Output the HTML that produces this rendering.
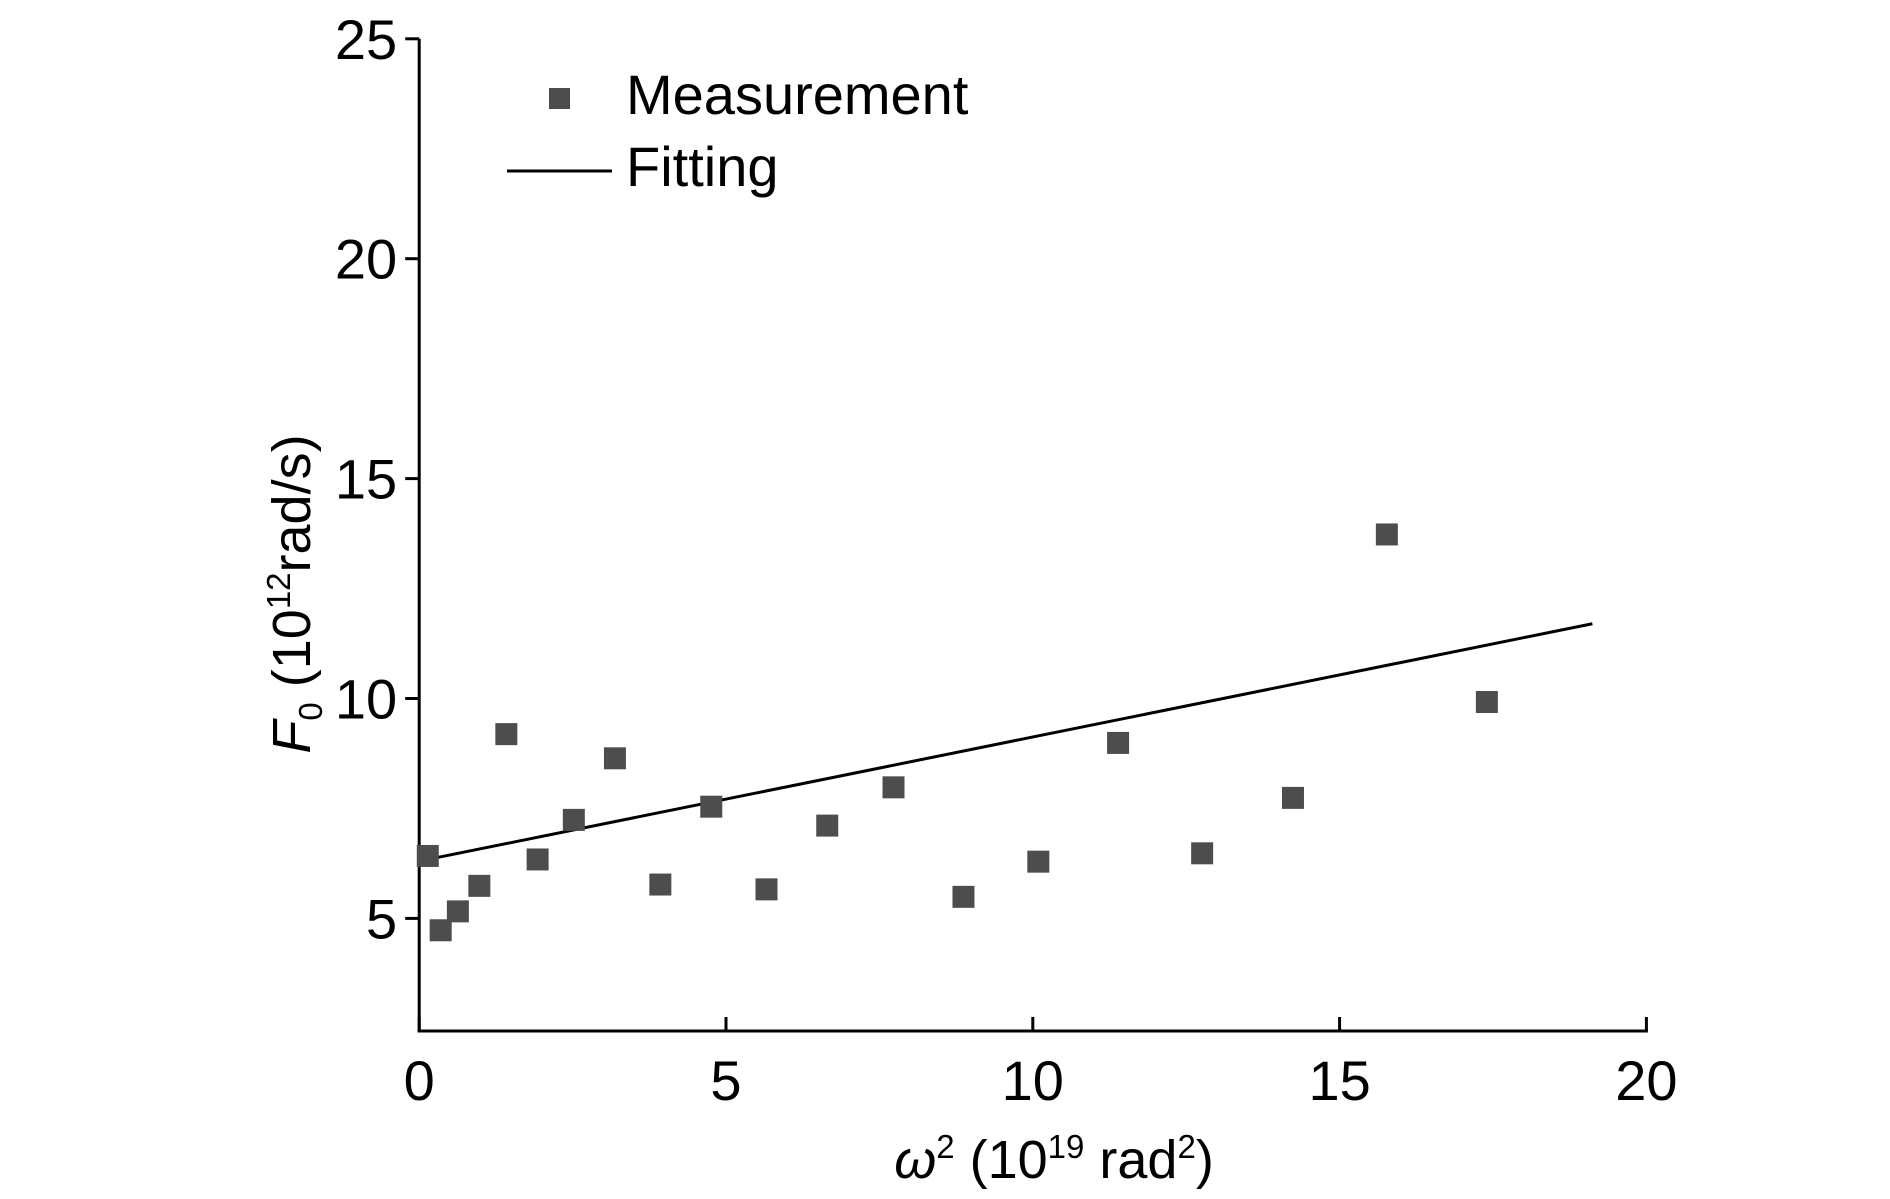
<!DOCTYPE html>
<html><head><meta charset="utf-8"><style>
html,body{margin:0;padding:0;background:#fff;}
svg{display:block;font-family:"Liberation Sans",sans-serif;}
</style></head><body>
<svg id="chart" width="1890" height="1199" viewBox="0 0 1890 1199" xmlns="http://www.w3.org/2000/svg">
<g id="axes"></g>
<g id="marks"></g>
<g id="legend">
  <rect x="549" y="88" width="21" height="21" fill="#4d4d4d"/>
  <text x="626" y="114" font-size="56" fill="#000">Measurement</text>
  <line x1="507" y1="171" x2="612" y2="171" stroke="#000" stroke-width="3"/>
  <text x="626" y="186" font-size="56" fill="#000">Fitting</text>
</g>
<text transform="translate(310,594) rotate(-90)" text-anchor="middle" font-size="54"><tspan font-style="italic">F</tspan><tspan font-size="33" dy="12">0</tspan><tspan dy="-12"> (10</tspan><tspan font-size="33" dy="-20">12</tspan><tspan dy="20">rad/s)</tspan></text>
<text x="1054" y="1178" text-anchor="middle" font-size="54"><tspan font-style="italic">ω</tspan><tspan font-size="33" dy="-20">2</tspan><tspan dy="20"> (10</tspan><tspan font-size="33" dy="-20">19</tspan><tspan dy="20"> rad</tspan><tspan font-size="33" dy="-20">2</tspan><tspan dy="20">)</tspan></text>
</svg>
<script>
const xs = [0.14,0.35,0.63,0.98,1.42,1.93,2.52,3.19,3.93,4.76,5.66,6.65,7.73,8.87,10.09,11.39,12.76,14.24,15.77,17.40];
const ys = [6.42,4.73,5.16,5.74,9.19,6.34,7.24,8.64,5.77,7.54,5.66,7.11,7.98,5.49,6.29,8.99,6.48,7.74,13.73,9.92];
const fitX = [0.14,19.12];
const fitY = [6.34,11.70];
const xTicks = [0,5,10,15,20];
const yTicks = [5,10,15,20,25];

const NS="http://www.w3.org/2000/svg";
const X0=419.2, XS=61.36, YB=1138.3, YS=43.98;
function sx(v){return X0+v*XS;}
function sy(v){return YB-v*YS;}
function mk(tag,attrs,parent){const e=document.createElementNS(NS,tag);for(const k in attrs)e.setAttribute(k,attrs[k]);parent.appendChild(e);return e;}
const axes=document.getElementById('axes'), marks=document.getElementById('marks');
const axisBottom=1031;
let a=mk('line',{x1:X0,y1:sy(25),x2:X0,y2:axisBottom+1.5,stroke:'#000','stroke-width':3},axes);


a=mk('line',{x1:X0-1.5,y1:axisBottom,x2:sx(20)+1.5,y2:axisBottom,stroke:'#000','stroke-width':3},axes);


xTicks.forEach(t=>{
  const l=mk('line',{x1:sx(t),y1:axisBottom,x2:sx(t),y2:axisBottom-14,stroke:'#000','stroke-width':3},axes);
  
  
  const tx=mk('text',{x:sx(t),y:1100,'text-anchor':'middle','font-size':56},axes);
  tx.textContent=t;
  
  
});
yTicks.forEach(t=>{
  const l=mk('line',{x1:X0,y1:sy(t),x2:X0-14,y2:sy(t),stroke:'#000','stroke-width':3},axes);
  
  
  const tx=mk('text',{x:X0-22,y:sy(t)+20,'text-anchor':'end','font-size':56},axes);
  tx.textContent=t;
  
  
});
const fl=mk('line',{x1:sx(fitX[0]),y1:sy(fitY[0]),x2:sx(fitX[1]),y2:sy(fitY[1]),stroke:'#000','stroke-width':3},marks);


const S=22;
xs.forEach((x,i)=>{
  const r=mk('rect',{x:sx(x)-S/2,y:sy(ys[i])-S/2,width:S,height:S,fill:'#4d4d4d'},marks);
  
  
});
</script>
</body></html>
